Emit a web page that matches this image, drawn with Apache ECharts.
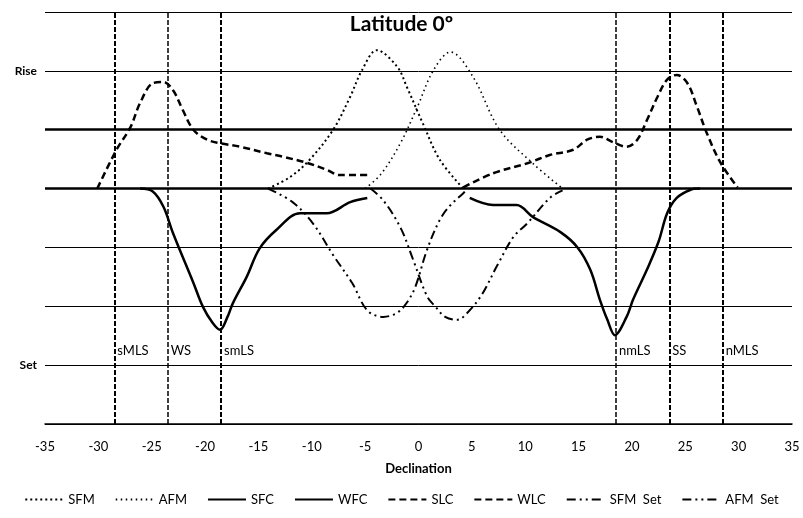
<!DOCTYPE html>
<html><head><meta charset="utf-8">
<script src="https://cdn.jsdelivr.net/npm/echarts@6/dist/echarts.min.js"></script>
<style>html,body{margin:0;padding:0;background:#fff}#c{width:803px;height:518px}</style>
</head><body><div id="c"></div>
<script>
// ---- data ----
const xTicks = [-35,-30,-25,-20,-15,-10,-5,0,5,10,15,20,25,30,35];
const yTickLabels = {1:'Set', 6:'Rise'};
const SFM = [[-14.1,4.0],[-12.0,4.2],[-10.2,4.49],[-8.0,5.0],[-6.4,5.56],[-5.3,6.01],[-3.9,6.35],[-2.0,6.07],[-1.1,5.73],[0.4,5.11],[2.0,4.49],[4.2,4.0]];
const AFM = [[-5.0,4.0],[-3.5,4.25],[-1.7,4.77],[-0.1,5.39],[1.4,6.01],[3.0,6.32],[5.1,5.9],[7.6,5.0],[10.7,4.43],[13.5,4.0]];
const SFC = [[-26.1,4.0],[-24.9,3.95],[-23.9,3.69],[-23.0,3.24],[-21.1,2.4],[-20.2,1.99],[-19.3,1.72],[-18.6,1.6],[-17.9,1.82],[-17.4,2.05],[-16.1,2.5],[-14.9,2.98],[-13.3,3.3],[-11.1,3.58],[-8.6,3.58],[-6.4,3.77],[-4.8,3.84]];
const WFC = [[4.8,3.84],[7.0,3.72],[9.2,3.72],[10.7,3.52],[13.3,3.26],[14.9,3.0],[16.1,2.62],[17.0,2.11],[17.7,1.77],[18.4,1.51],[19.5,1.82],[20.1,2.11],[21.4,2.62],[22.5,3.1],[23.3,3.58],[24.2,3.84],[25.5,3.98],[26.4,4.0]];
const SLC = [[-30.1,4.0],[-28.3,4.66],[-27.0,5.04],[-26.1,5.45],[-24.9,5.79],[-23.9,5.81],[-23.0,5.67],[-22.1,5.34],[-21.1,5.0],[-19.8,4.83],[-18.6,4.77],[-16.7,4.71],[-14.2,4.6],[-12.7,4.54],[-10.5,4.44],[-8.6,4.32],[-7.4,4.23],[-4.8,4.23]];
const WLC = [[4.2,4.02],[7.0,4.26],[10.2,4.43],[12.3,4.57],[14.5,4.66],[15.8,4.83],[17.0,4.88],[18.2,4.79],[19.5,4.71],[20.5,4.83],[21.4,5.16],[22.4,5.56],[23.3,5.85],[24.2,5.93],[25.2,5.79],[26.1,5.39],[27.0,4.95],[28.3,4.44],[29.9,4.02]];
const SFMSet = [[-14.1,4.0],[-11.8,3.77],[-9.9,3.41],[-8.0,2.87],[-6.2,2.39],[-4.8,1.93],[-3.3,1.82],[-2.0,1.89],[-1.1,2.06],[-0.3,2.33],[0.8,2.96],[2.0,3.47],[3.0,3.72],[4.2,3.92],[4.6,4.0]];
const AFMSet = [[-4.5,4.0],[-3.3,3.8],[-1.7,3.34],[-0.5,2.79],[0.8,2.17],[1.6,1.99],[2.5,1.82],[3.6,1.77],[4.2,1.82],[5.8,2.16],[7.4,2.7],[8.9,3.18],[10.2,3.41],[12.3,3.84],[13.5,3.97]];
const markerNames = ['sMLS','WS','smLS','nmLS','SS','nMLS'];
const markerX = [-28.5,-23.5,-18.5,18.5,23.5,28.5];
const markerLabelY = 1.25;
const thickLevels = [4,5];
const seriesNames = ['SFM','AFM','SFC','WFC','SLC','WLC','SFM  Set','AFM  Set'];

const FONT = 'Lato';
const dashDot = [9,4,2,4,2,4];
const styles = [
  {type:[2,3], width:2},
  {type:[1.5,3.5], width:1.6},
  {type:'solid', width:2.5},
  {type:'solid', width:2.5},
  {type:[7,4], width:2.5},
  {type:[7,4], width:2.5},
  {type:dashDot, width:2},
  {type:dashDot, width:2}
];
const datas = [SFM,AFM,SFC,WFC,SLC,WLC,SFMSet,AFMSet];
const markerWidths = [2,1.5,2,1.5,2,2];

const series = seriesNames.map((n,i)=>({
  name:n, type:'line', data:datas[i], smooth:0.35, symbol:'none',
  lineStyle:{color:'#000', width:styles[i].width, type:styles[i].type},
  itemStyle:{color:'#000'}, z:3
}));
series.push({
  name:'_helper', type:'line', data:[], symbol:'none', silent:true,
  markLine:{symbol:'none', silent:true, label:{show:false},
    data: thickLevels.map(v=>({yAxis:v, lineStyle:{color:'#000', width:2.5, type:'solid'}}))
      .concat(markerX.map((x,i)=>({xAxis:x, lineStyle:{color:'#000', width:markerWidths[i], type:[5,2]}})))
  }
});
series.push({
  name:'_labels', type:'scatter', symbolSize:0, silent:true,
  itemStyle:{color:'#000', opacity:1},
  data: markerX.map((x,i)=>({value:[x,markerLabelY], name:markerNames[i]})),
  label:{show:true, position:'right', distance:3, opacity:1, formatter:p=>p.name, color:'#000', fontFamily:FONT, fontSize:13}
});

const chart = echarts.init(document.getElementById('c'));
chart.setOption({
  animation:false,
  backgroundColor:'#fff',
  title:{text:'Latitude 0º', left:'center', top:9, textStyle:{fontFamily:FONT, fontWeight:'bold', fontSize:21, color:'#000'}},
  grid:{left:45, right:11, top:12, bottom:94},
  legend:{data:seriesNames, bottom:7, left:'center', itemWidth:38, itemHeight:10, itemGap:20,
    itemStyle:{opacity:0},
    textStyle:{fontFamily:FONT, fontSize:13, color:'#000'}},
  xAxis:{type:'value', min:-35, max:35, interval:5, name:'Declination', nameLocation:'middle', nameGap:38,
    nameTextStyle:{fontFamily:FONT, fontWeight:'bold', fontSize:13, color:'#000'},
    axisLine:{lineStyle:{color:'#000', width:1.5}}, axisTick:{show:false},
    axisLabel:{color:'#000', fontFamily:FONT, fontSize:13, margin:16, formatter:v=>xTicks.includes(v)?String(v):''},
    splitLine:{show:false}},
  yAxis:{type:'value', min:0, max:7, interval:1,
    axisLine:{show:false}, axisTick:{show:false},
    axisLabel:{color:'#000', fontFamily:FONT, fontWeight:'bold', fontSize:12, margin:8, formatter:v=>yTickLabels[v]||''},
    splitLine:{show:true, lineStyle:{color:'#000', width:1}}},
  series:series
});
</script></body></html>
